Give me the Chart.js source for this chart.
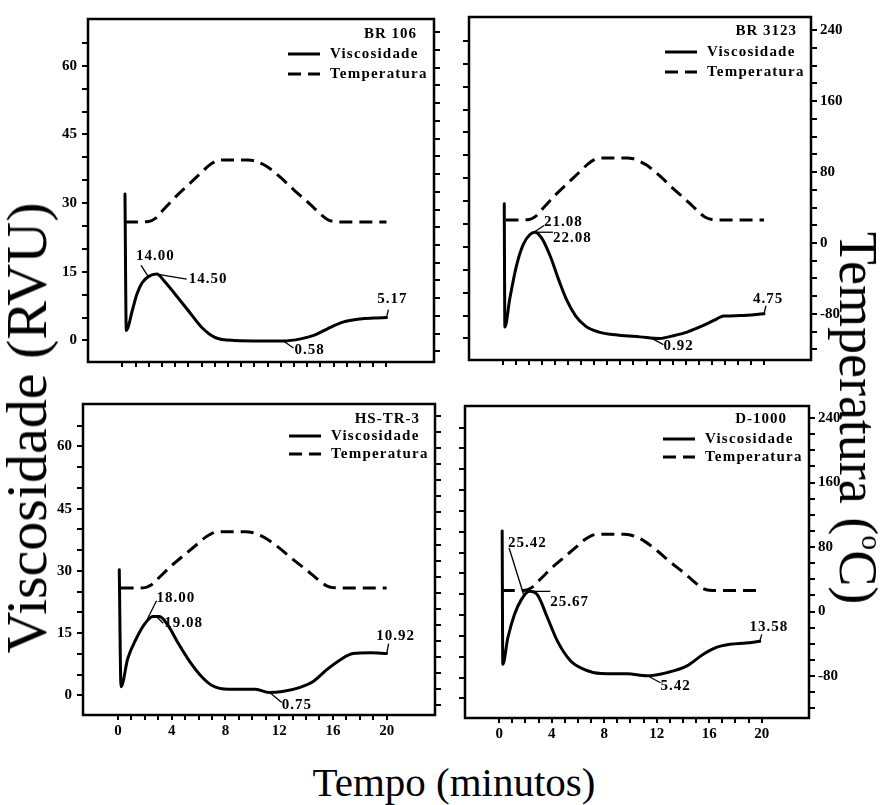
<!DOCTYPE html>
<html>
<head>
<meta charset="utf-8">
<script src="https://cdn.jsdelivr.net/npm/chart.js@4.4.0/dist/chart.umd.min.js"></script>
<style>
html,body{margin:0;padding:0;background:#fff;}
body{width:890px;height:805px;position:relative;overflow:hidden;}
.panel{position:absolute;}
.bigtitle{position:absolute;white-space:nowrap;color:#000;font-family:'Liberation Serif','Times New Roman',serif;line-height:1;}
.bigtitle sup{font-size:0.55em;vertical-align:0.75em;line-height:0;}
</style>
</head>
<body>
<div class="panel" id="p1"><canvas id="c1"></canvas></div>
<div class="panel" id="p2"><canvas id="c2"></canvas></div>
<div class="panel" id="p3"><canvas id="c3"></canvas></div>
<div class="panel" id="p4"><canvas id="c4"></canvas></div>
<div class="bigtitle" id="ytitle">Viscosidade (RVU)</div>
<div class="bigtitle" id="y2title">Temperatura (<sup>o</sup>C)</div>
<div class="bigtitle" id="xtitle">Tempo (minutos)</div>
<script>
// ---------------- DATA ----------------
const seriesNames = ['Viscosidade', 'Temperatura'];
const sampleNames = ['BR 106', 'BR 3123', 'HS-TR-3', 'D-1000'];

// temperature profile (°C) vs time (min), same programme in all four runs
const tempTime   = [0.2, 1.0, 2.0, 2.5, 3.0, 3.5, 4.0, 5.0, 6.0, 6.5, 7.0, 7.5, 8.5, 9.5, 10.0, 10.5, 11.0, 12.0, 13.0, 14.0, 14.5, 15.0, 15.5, 16.0, 17.0, 18.0, 19.0, 20.0];
const tempValues = [26, 26, 26.5, 30, 38, 46, 54, 68, 82, 89, 94, 96, 96, 96, 95, 92, 88, 76, 62, 49, 42, 35, 29, 26.5, 26, 26, 26, 26];

// viscosity (RVU) vs time (min)
const br106Time = [0.2, 0.3, 0.75, 1.1, 1.5, 2.0, 2.6, 3.2, 4.0, 5.0, 6.0, 7.0, 8.5, 10.5, 12.2, 13.5, 14.5, 15.5, 16.7, 18.0, 19.0, 20.0];
const br106Visc = [32.0, 2.2, 6.5, 10.1, 12.6, 14.0, 14.5, 12.9, 10.1, 6.5, 2.9, 0.7, 0.0, -0.1, -0.1, 0.35, 1.1, 2.5, 4.0, 4.7, 4.9, 5.0];

const br3123Time = [0.1, 0.15, 0.52, 1.03, 1.55, 2.07, 2.45, 2.97, 3.62, 4.26, 4.9, 5.55, 6.33, 7.36, 8.9, 10.5, 12.0, 13.05, 14.1, 15.4, 16.4, 16.9, 18.2, 20.0];
const br3123Visc = [29.4, 2.5, 8.6, 15.8, 20.5, 22.7, 23.2, 21.9, 18.0, 12.9, 8.3, 5.0, 2.7, 1.4, 0.7, 0.35, 0.0, 0.6, 1.4, 2.9, 4.3, 4.9, 5.0, 5.4];

const hstr3Time = [0.1, 0.23, 0.73, 1.35, 1.98, 2.6, 3.1, 3.74, 4.5, 5.36, 6.24, 7.0, 8.25, 10.25, 11.25, 12.25, 13.5, 14.5, 15.5, 16.5, 17.5, 18.8, 20.0];
const hstr3Visc = [30.3, 2.1, 8.9, 13.6, 17.2, 19.0, 19.0, 16.8, 12.5, 8.1, 4.5, 2.4, 1.5, 1.5, 0.7, 0.95, 1.9, 3.3, 6.1, 8.5, 10.1, 10.3, 10.1];

const d1000Time = [0.23, 0.28, 0.66, 1.16, 1.67, 2.3, 2.93, 3.69, 4.45, 5.45, 6.46, 7.73, 9.75, 11.27, 12.8, 14.3, 15.55, 16.6, 17.6, 18.8, 19.85];
const d1000Visc = [40.2, 8.2, 14.5, 20.1, 23.6, 25.7, 24.8, 19.3, 13.7, 9.0, 7.0, 6.0, 5.9, 5.45, 6.2, 7.8, 10.6, 12.3, 13.0, 13.3, 13.7];

// annotated values: [label, time, viscosity]
const br106Notes  = [['14.00', 1.95, 14.0], ['14.50', 2.6, 14.5], ['0.58', 12.2, -0.1], ['5.17', 20.0, 5.0]];
const br3123Notes = [['21.08', 2.0, 22.5], ['22.08', 2.45, 23.2], ['0.92', 11.3, 0.2], ['4.75', 20.0, 5.4]];
const hstr3Notes  = [['18.00', 2.2, 18.5], ['19.08', 2.85, 19.1], ['0.75', 11.3, 0.7], ['10.92', 20.0, 10.1]];
const d1000Notes  = [['25.42', 1.9, 24.6], ['25.67', 2.3, 25.7], ['5.42', 11.3, 5.45], ['13.58', 19.85, 13.7]];

// axis ticks
const timeTickStep = 1, timeLabelStep = 4, timeTickMin = 0, timeTickMax = 20;
const viscTickStep = 5, viscLabelStep = 15, viscTickMin = 0, viscTickMax = 65;
const tempTickStep = 20, tempLabelStep = 80, tempTickMin = -120, tempTickMax = 240;

// ---------------- LAYOUT / STYLE ----------------
const FONT = "'Liberation Serif','Times New Roman',serif";
const AX_L = 45, AX_R = 45, AX_B = 40, PAD_T = 10;
const panels = [
  {id: 'p1', c: 'c1', box: [88, 434, 15, 362], name: 0, time: br106Time, visc: br106Visc, notes: br106Notes,
   left: true, right: false, bottom: false,
   noteStyle: [[-7,-11,-5,-9,'left'], [30,5,2,0,'left'], [10,7,1,2,'left'], [2,-8,4,-10,'center']],
   leg: {titleDx: -17, titleDy: 15, y1: 35, y2: 55}},
  {id: 'p2', c: 'c2', box: [469, 811, 13, 360], name: 1, time: br3123Time, visc: br3123Visc, notes: br3123Notes,
   left: false, right: true, bottom: false,
   noteStyle: [[15,-10,0,-3,'left'], [18,0,0,6,'left'], [13,7,0,2,'left'], [2,-8,2,-7,'center']],
   leg: {titleDx: -14, titleDy: 14, y1: 35, y2: 55}},
  {id: 'p3', c: 'c3', box: [83, 435, 400, 715], name: 2, time: hstr3Time, visc: hstr3Visc, notes: hstr3Notes,
   left: true, right: false, bottom: true,
   noteStyle: [[9,-18,0,-3,'left'], [7,7,1,0,'left'], [12,10,0,3,'left'], [2,-10,7,-7,'center']],
   leg: {titleDx: -15, titleDy: 15, y1: 32, y2: 50}},
  {id: 'p4', c: 'c4', box: [465, 809, 402, 718], name: 3, time: d1000Time, visc: d1000Visc, notes: d1000Notes,
   left: false, right: true, bottom: true,
   noteStyle: [[-15,-48,-1,-5,'left'], [21,0,0,11,'left'], [13,7,0,3,'left'], [2,-7,7,-7,'center']],
   leg: {titleDx: -22, titleDy: 13, y1: 33, y2: 51}}
];

const zip = (xs, ys) => xs.map((x, i) => ({x: x, y: ys[i]}));

const boxPlugin = {
  id: 'boxPlugin',
  afterDatasetsDraw(chart) {
    const a = chart.chartArea, ctx = chart.ctx;
    ctx.save();
    ctx.strokeStyle = '#000';
    ctx.lineWidth = 2.5;
    ctx.setLineDash([]);
    ctx.strokeRect(a.left, a.top, a.right - a.left, a.bottom - a.top);
    ctx.restore();
  }
};

const legendPlugin = {
  id: 'panelLegend',
  afterDraw(chart, args, opts) {
    const a = chart.chartArea, ctx = chart.ctx;
    ctx.save();
    ctx.fillStyle = '#000';
    ctx.font = 'bold 15px ' + FONT;
    ctx.letterSpacing = '1px';
    ctx.textBaseline = 'middle';
    ctx.textAlign = 'right';
    ctx.fillText(opts.title, a.right + opts.titleDx, a.top + opts.titleDy);
    const ys = [opts.y1, opts.y2];
    chart.data.datasets.forEach((ds, i) => {
      const y = a.top + ys[i];
      ctx.strokeStyle = ds.borderColor;
      ctx.lineWidth = ds.borderWidth;
      ctx.setLineDash(ds.borderDash || []);
      ctx.beginPath();
      ctx.moveTo(a.right - 146, y);
      ctx.lineTo(a.right - 114, y);
      ctx.stroke();
      ctx.textAlign = 'left';
      ctx.letterSpacing = '1.2px';
      ctx.fillText(ds.label, a.right - 104, y);
    });
    ctx.restore();
  }
};

const notesPlugin = {
  id: 'notes',
  afterDraw(chart, args, opts) {
    const xs = chart.scales.x, ys = chart.scales.y, ctx = chart.ctx;
    ctx.save();
    ctx.fillStyle = '#000';
    ctx.strokeStyle = '#000';
    ctx.lineWidth = 1.3;
    ctx.font = 'bold 15px ' + FONT;
    ctx.letterSpacing = '1px';
    ctx.textBaseline = 'middle';
    opts.items.forEach((n, i) => {
      const st = opts.style[i];
      const px = xs.getPixelForValue(n[1]);
      const py = ys.getPixelForValue(n[2]);
      const ex = px + st[0], ey = py + st[1];
      ctx.beginPath();
      ctx.moveTo(px, py);
      ctx.lineTo(ex, ey);
      ctx.stroke();
      ctx.textAlign = st[4];
      ctx.fillText(n[0], ex + st[2], ey + st[3]);
    });
    ctx.restore();
  }
};

function filterTicks(lo, hi) {
  return s => { s.ticks = s.ticks.filter(t => t.value >= lo - 1e-9 && t.value <= hi + 1e-9); };
}

function axisCommon() {
  return {
    grid: {drawOnChartArea: false, drawTicks: true, tickLength: 6, color: '#000', tickColor: '#000', lineWidth: 2, tickWidth: 2},
    border: {display: false}
  };
}

panels.forEach(p => {
  const [L, R, T, B] = p.box;
  const div = document.getElementById(p.id);
  const W = (R - L) + AX_L + AX_R, H = (B - T) + PAD_T + AX_B;
  div.style.left = (L - AX_L) + 'px';
  div.style.top = (T - PAD_T) + 'px';
  div.style.width = W + 'px';
  div.style.height = H + 'px';
  const cv = document.getElementById(p.c);
  cv.width = W; cv.height = H;
  cv.style.width = W + 'px'; cv.style.height = H + 'px';

  const xAxis = Object.assign(axisCommon(), {
    type: 'linear', position: 'bottom', min: -2.6, max: 23.6,
    afterFit: s => { s.height = AX_B; },
    afterBuildTicks: filterTicks(timeTickMin, timeTickMax),
    ticks: {stepSize: timeTickStep, includeBounds: false, autoSkip: false, maxRotation: 0, minRotation: 0, padding: 2,
      color: '#000', font: {family: FONT, size: 15, weight: 'bold'},
      callback: v => (p.bottom && Math.abs(v % timeLabelStep) < 1e-9) ? String(v) : ''}
  });
  xAxis.grid.tickLength = 5;
  const yAxis = Object.assign(axisCommon(), {
    type: 'linear', position: 'left', min: -4.7, max: 70.2,
    afterFit: s => { s.width = AX_L; },
    afterBuildTicks: filterTicks(viscTickMin, viscTickMax),
    ticks: {stepSize: viscTickStep, includeBounds: false, autoSkip: false, padding: 5,
      color: '#000', font: {family: FONT, size: 15, weight: 'bold'},
      callback: v => (p.left && Math.abs(v % viscLabelStep) < 1e-9) ? String(v) : ''}
  });
  const y1Axis = Object.assign(axisCommon(), {
    type: 'linear', position: 'right', min: -132, max: 255,
    afterFit: s => { s.width = AX_R; },
    afterBuildTicks: filterTicks(tempTickMin, tempTickMax),
    ticks: {stepSize: tempTickStep, includeBounds: false, autoSkip: false, padding: 3,
      color: '#000', font: {family: FONT, size: 15, weight: 'bold'},
      callback: v => (p.right && Math.abs(v % tempLabelStep) < 1e-9) ? String(v) : ''}
  });

  new Chart(cv, {
    type: 'line',
    data: {
      datasets: [
        {label: seriesNames[0], data: zip(p.time, p.visc), yAxisID: 'y', borderColor: '#000', backgroundColor: '#000',
         borderWidth: 3, pointRadius: 0, cubicInterpolationMode: 'monotone', fill: false, borderCapStyle: 'round', borderJoinStyle: 'round'},
        {label: seriesNames[1], data: zip(tempTime, tempValues), yAxisID: 'y1', borderColor: '#000', backgroundColor: '#000',
         borderWidth: 3, borderDash: [13, 7], pointRadius: 0, cubicInterpolationMode: 'monotone', fill: false}
      ]
    },
    options: {
      responsive: false, maintainAspectRatio: false, animation: false, devicePixelRatio: 1,
      layout: {padding: {top: PAD_T, left: 0, right: 0, bottom: 0}},
      plugins: {
        legend: {display: false},
        tooltip: {enabled: false},
        panelLegend: Object.assign({title: sampleNames[p.name]}, p.leg),
        notes: {items: p.notes, style: p.noteStyle}
      },
      scales: {x: xAxis, y: yAxis, y1: y1Axis}
    },
    plugins: [boxPlugin, legendPlugin, notesPlugin]
  });
});

// big axis titles
function place(id, cx, cy, size, rot) {
  const el = document.getElementById(id);
  el.style.fontSize = size + 'px';
  el.style.left = cx + 'px';
  el.style.top = cy + 'px';
  el.style.transform = 'translate(-50%,-50%)' + (rot ? ' rotate(' + rot + 'deg)' : '');
}
place('ytitle', 27, 428, 58, -90);
place('y2title', 858, 418, 54, 90);
place('xtitle', 454, 782, 41, 0);
</script>
</body>
</html>
